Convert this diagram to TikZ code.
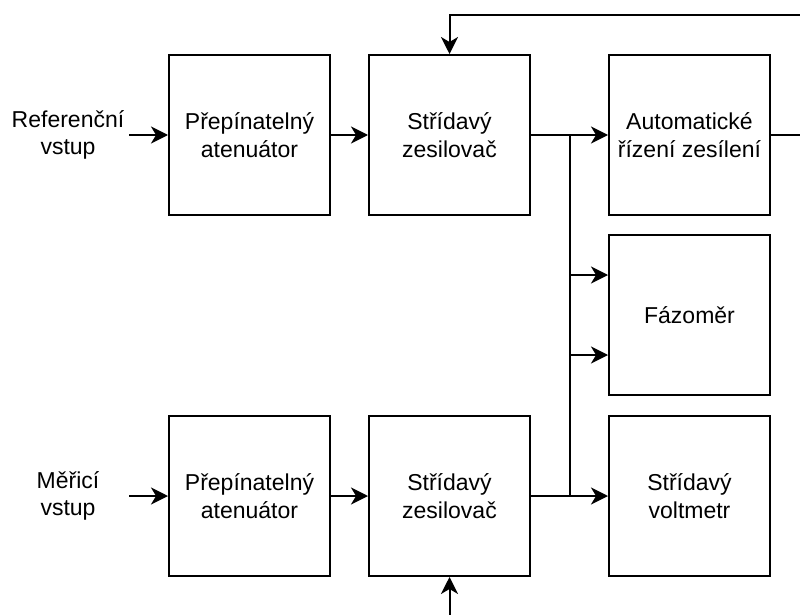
\documentclass[tikz,border=0pt]{standalone}
\usepackage{fontspec}
\setmainfont{Liberation Sans}
\usetikzlibrary{arrows.meta}
\begin{document}
\begin{tikzpicture}[x=1pt,y=-1pt,
  blk/.style={draw,line width=2pt,minimum width=161pt,minimum height=160pt,inner sep=0pt,align=center,
    font=\fontsize{23}{27.5}\selectfont},
  lbl/.style={align=center,inner sep=0pt,font=\fontsize{23}{27.5}\selectfont},
  conn/.style={line width=2pt},
  arr/.style={conn,-{Stealth[length=17pt,width=17pt,inset=5pt]}}]
\useasboundingbox (0,0) rectangle (800,615);
\node[blk] (att1) at (249.5,135) {Přepínatelný\\atenuátor};
\node[blk] (amp1) at (449.5,135) {Střídavý\\zesilovač};
\node[blk] (agc)  at (689.5,135) {Automatické\\řízení zesílení};
\node[blk] (faz)  at (689.5,315) {Fázoměr};
\node[blk] (volt) at (689.5,496) {Střídavý\\voltmetr};
\node[blk] (att2) at (249.5,496) {Přepínatelný\\atenuátor};
\node[blk] (amp2) at (449.5,496) {Střídavý\\zesilovač};
\node[lbl] (ref) at (68,135) {Referenční\\vstup};
\node[lbl] (mer) at (68,496) {Měřicí\\vstup};
\coordinate (refin) at (129,135);
\coordinate (merin) at (129,496);
\coordinate (fbR) at (800,15);
\coordinate (agcR) at (800,135);
\coordinate (bot) at (449.5,615);
\coordinate (j1) at (570,135);
\coordinate (j2) at (570,496);
\draw[arr] (refin) -- (att1);
\draw[arr] (merin) -- (att2);
\draw[arr] (att1) -- (amp1);
\draw[arr] (att2) -- (amp2);
\draw[arr] (amp1) -- (agc);
\draw[arr] (amp2) -- (volt);
\draw[arr] (j1) |- ([yshift=-40pt]faz.west);
\draw[arr] (j2) |- ([yshift=40pt]faz.west);
\draw[conn] (agc.east) -- (agcR);
\draw[arr] (fbR) -| (amp1.north);
\draw[arr] (bot) -- (amp2.south);
\end{tikzpicture}
\end{document}
